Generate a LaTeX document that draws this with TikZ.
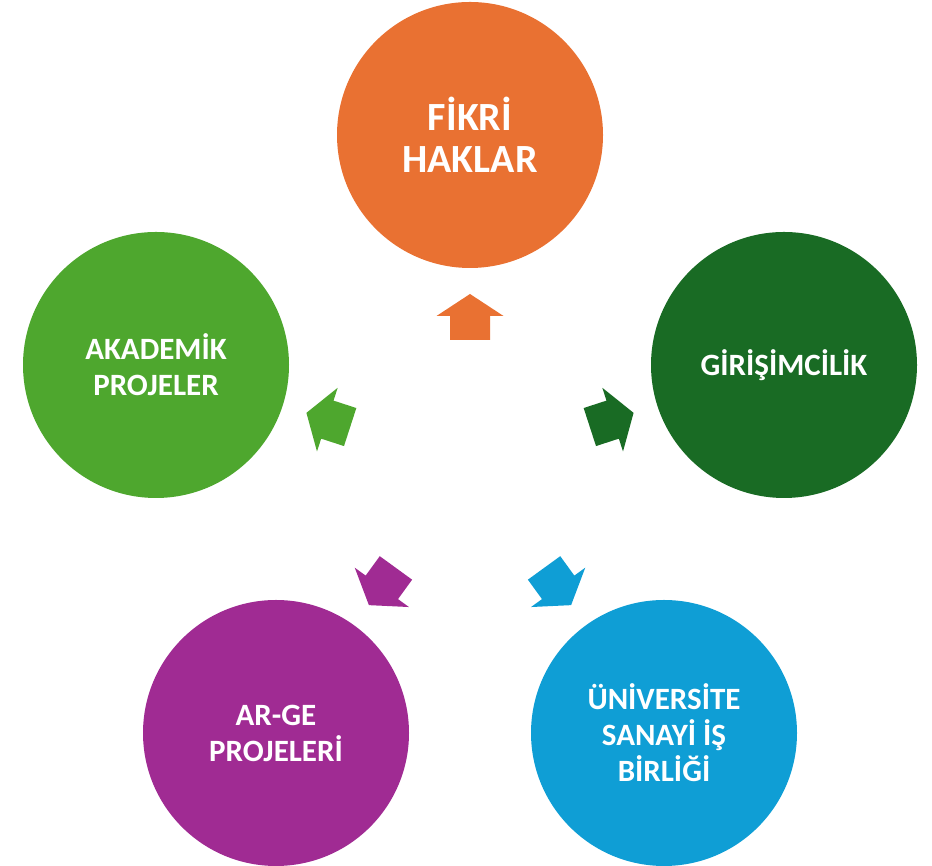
\documentclass[tikz,border=0pt]{standalone}
\usepackage{fontspec}
\setmainfont{Carlito}
\definecolor{DiagOrange}{HTML}{E97132}
\definecolor{DiagGreen}{HTML}{4EA72E}
\definecolor{DiagDarkGreen}{HTML}{196B24}
\definecolor{DiagPurple}{HTML}{A02B93}
\definecolor{DiagBlue}{HTML}{0F9ED5}
\tikzset{
  bubble/.style={circle,draw=none,minimum size=133pt,inner sep=0pt,
    text=white,align=center,font=\bfseries\fontsize{15.5}{18}\selectfont}
}

\begin{document}
\begin{tikzpicture}[x=0.5pt,y=0.5pt]
  \useasboundingbox (0,0) rectangle (932,866);
  \coordinate (hub) at (470,400);

  \node[bubble,fill=DiagOrange,font=\bfseries\fontsize{20}{21}\selectfont] (fikri) at (470,731) {FİKRİ\\HAKLAR};
  \node[bubble,fill=DiagGreen] (akademik) at (156,501) {AKADEMİK\\PROJELER};
  \node[bubble,fill=DiagDarkGreen] (girisim) at (784,501) {GİRİŞİMCİLİK};
  \node[bubble,fill=DiagPurple] (arge) at (276,133) {AR-GE\\PROJELERİ};
  \node[bubble,fill=DiagBlue] (sanayi) at (664,133) {ÜNİVERSİTE\\SANAYİ İŞ\\BİRLİĞİ};

  % arrows from the hub out to each circle
  \foreach \ang/\col in {0/DiagOrange,72/DiagGreen,-72/DiagDarkGreen,144/DiagPurple,-144/DiagBlue} {
    \begin{scope}[shift={(hub)},rotate=\ang]
      \fill[\col] (-20,126) -- (-20,150) -- (-33.5,150) -- (0,172)
        -- (33.5,150) -- (20,150) -- (20,126) -- cycle;
    \end{scope}
  }
\end{tikzpicture}
\end{document}
